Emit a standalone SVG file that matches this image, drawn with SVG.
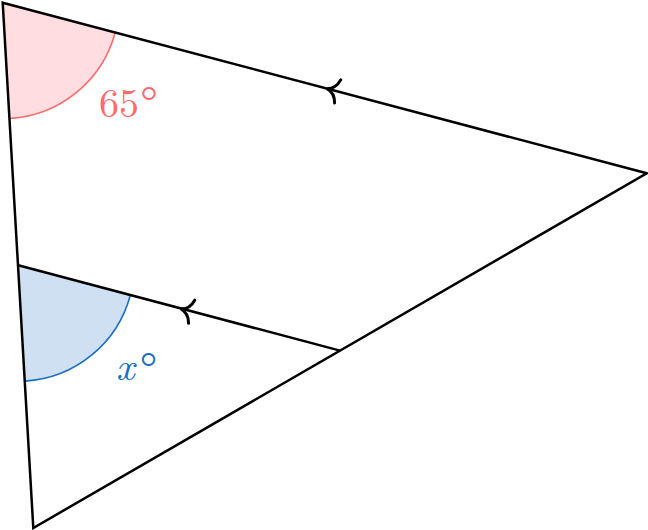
<svg xmlns="http://www.w3.org/2000/svg" width="648" height="530" viewBox="0 0 648 530">
<style>
.edge{fill:none;stroke:#000;stroke-width:2.5;stroke-linejoin:miter;stroke-linecap:butt}
.arr{fill:none;stroke:#000;stroke-width:3;stroke-linecap:round}
.lbl{font-family:"Latin Modern Roman","Liberation Serif",serif;font-size:40px}
.deg{font-family:"Latin Modern Roman","Liberation Serif",serif;font-size:48px}
</style>
<rect width="648" height="530" fill="#fff"/>
<g id="angle65">
<path d="M 2.7 2.7 L 115.1 32.7 A 116 116 0 0 1 10.4 118.4 Z" fill="#ffdde0" stroke="none"/>
<path d="M 115.1 32.7 A 116 116 0 0 1 10.4 118.4" fill="none" stroke="#ff6b6b" stroke-width="1.6"/>
<text class="lbl" x="99" y="117" fill="#ff6b6b">65</text>
<text class="deg" x="140" y="120" fill="#ff6b6b">°</text>
</g>
<g id="anglex">
<path d="M 18.2 265.3 L 130.3 295.2 A 116 116 0 0 1 25 381.1 Z" fill="#cfe0f2" stroke="none"/>
<path d="M 130.3 295.2 A 116 116 0 0 1 25 381.1" fill="none" stroke="#1a6fc4" stroke-width="1.6"/>
<text class="lbl" x="116" y="380" fill="#1a6fc4" font-style="italic">x</text>
<text class="deg" x="139.5" y="386" fill="#1a6fc4">°</text>
</g>
<g id="connectors">
<path class="edge" d="M 2.7 2.7 L 646.7 173.3 L 33.3 528 Z"/>
<path class="edge" d="M 18.2 265.3 L 340 350.6"/>
<path class="arr" transform="translate(328,88.9) rotate(14.84)" d="M 10 -12 C 8 -4 3 -1 -1 0 C 3 1 8 4 10 12"/>
<path class="arr" transform="translate(182,309.2) rotate(14.84)" d="M 10 -12 C 8 -4 3 -1 -1 0 C 3 1 8 4 10 12"/>
</g>
</svg>
